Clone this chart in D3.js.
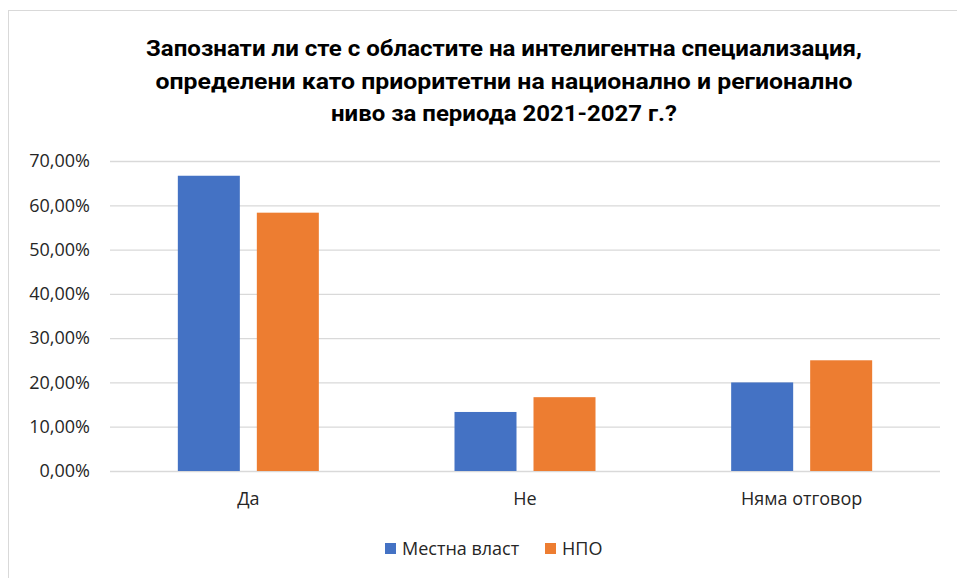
<!DOCTYPE html>
<html>
<head>
<meta charset="utf-8">
<script src="https://cdn.jsdelivr.net/npm/d3@7"></script>
<style>
  html, body { margin: 0; padding: 0; background: #fff; }
  svg { display: block; }
  text { font-family: "Open Sans", "Noto Sans", sans-serif; fill: #262626; }
</style>
</head>
<body>
<svg id="chart" width="957" height="578"></svg>
<script>
// Survey answers, share of respondents per group
const categories = ["Да", "Не", "Няма отговор"];
const seriesNames = ["Местна власт", "НПО"];
const localAuthority = [0.6667, 0.1333, 0.20];
const ngo = [0.5833, 0.1667, 0.25];
const yTicks = [0, 0.1, 0.2, 0.3, 0.4, 0.5, 0.6, 0.7];
const titleLines = [
  "Запознати ли сте с областите на интелигентна специализация,",
  "определени като приоритетни на национално и регионално",
  "ниво за периода 2021-2027 г.?"
];
const colors = ["#4472C4", "#ED7D31"];

const svg = d3.select("#chart");

// chart frame
svg.append("rect")
  .attr("x", 8.5).attr("y", 10.5)
  .attr("width", 960).attr("height", 600)
  .attr("fill", "#fff").attr("stroke", "#d9d9d9").attr("stroke-width", 1);

const plot = { left: 110, right: 940, top: 161, bottom: 471 };

const x0 = d3.scaleBand().domain(categories).range([plot.left, plot.right]);
const groupWidth = 141;
const x1 = d3.scaleBand().domain(seriesNames).range([0, groupWidth]).paddingInner(17 / 79);
const groupOffset = (x0.bandwidth() - groupWidth) / 2;

const y = d3.scaleLinear().domain([0, 0.7]).range([plot.bottom, plot.top]);

// title, each line fitted to its width
const titleWidths = [716, 697, 346];
svg.append("g").selectAll("text")
  .data(titleLines).join("text")
  .attr("x", 504).attr("y", (d, i) => 56 + i * 32.5)
  .attr("text-anchor", "middle")
  .attr("textLength", (d, i) => titleWidths[i])
  .attr("lengthAdjust", "spacingAndGlyphs")
  .style("font-family", "Roboto, 'Open Sans', sans-serif")
  .style("font-weight", "bold")
  .style("font-size", "22px")
  .style("fill", "#000")
  .text(d => d);

// gridlines + y axis labels
const yAxis = d3.axisLeft(y)
  .tickValues(yTicks)
  .tickSize(-(plot.right - plot.left))
  .tickPadding(20)
  .tickFormat(d => d3.format(".2f")(d * 100).replace(".", ",") + "%");

const gy = svg.append("g")
  .attr("transform", `translate(${plot.left},0)`)
  .call(yAxis);
gy.select(".domain").remove();
gy.selectAll(".tick line").attr("stroke", "#d9d9d9").attr("stroke-width", 1.3);
gy.selectAll(".tick text")
  .style("font-family", "'Open Sans', sans-serif")
  .style("font-size", "18px")
  .attr("fill", "#262626");

// bars
const data = categories.map((c, i) => ({ cat: c, values: [localAuthority[i], ngo[i]] }));
const groups = svg.append("g").selectAll("g")
  .data(data).join("g")
  .attr("transform", d => `translate(${x0(d.cat) + groupOffset},0)`);

groups.selectAll("rect")
  .data(d => d.values.map((v, k) => ({ series: seriesNames[k], v, k })))
  .join("rect")
  .attr("x", d => x1(d.series))
  .attr("width", x1.bandwidth())
  .attr("y", d => y(d.v))
  .attr("height", d => y(0) - y(d.v))
  .attr("fill", d => colors[d.k]);

// category axis labels
const xAxis = d3.axisBottom(x0).tickSize(0).tickPadding(21);
const gx = svg.append("g")
  .attr("transform", `translate(0,${plot.bottom})`)
  .call(xAxis);
gx.select(".domain").remove();
gx.selectAll(".tick text")
  .style("font-family", "'Open Sans', sans-serif")
  .style("font-size", "18px")
  .attr("fill", "#262626");

// legend
const legendItems = [
  { name: seriesNames[0], color: colors[0], x: 385 },
  { name: seriesNames[1], color: colors[1], x: 545 }
];
const legend = svg.append("g");
legendItems.forEach(item => {
  legend.append("rect")
    .attr("x", item.x).attr("y", 543)
    .attr("width", 11).attr("height", 11)
    .attr("fill", item.color);
  legend.append("text")
    .attr("x", item.x + 17).attr("y", 555)
    .style("font-size", "18px")
    .text(item.name);
});
</script>
</body>
</html>
